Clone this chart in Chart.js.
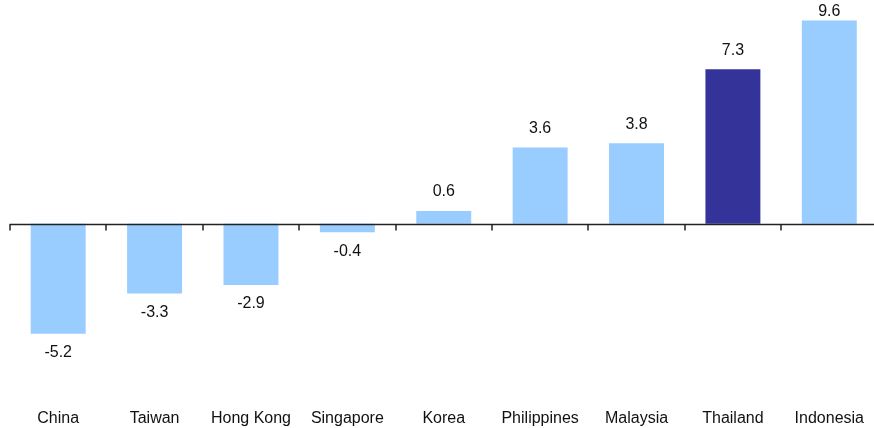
<!DOCTYPE html>
<html>
<head>
<meta charset="utf-8">
<script src="https://cdn.jsdelivr.net/npm/chart.js@4"></script>
<style>
    html, body { margin: 0; padding: 0; background: #fff; overflow: hidden; }
    #wrap { width: 880px; height: 428px; }
</style>
</head>
<body>
<div id="wrap"><canvas id="myChart" width="880" height="428"></canvas></div>
<script>
const countries = ['China', 'Taiwan', 'Hong Kong', 'Singapore', 'Korea', 'Philippines', 'Malaysia', 'Thailand', 'Indonesia'];
const values = [-5.2, -3.3, -2.9, -0.4, 0.6, 3.6, 3.8, 7.3, 9.6];
const highlight = 'Thailand';

const lightBlue = '#99CCFF';
const darkBlue = '#333399';
const fontFamily = '"Liberation Sans", Arial, sans-serif';

// zero line with small ticks between categories
const zeroLine = {
    id: 'zeroLine',
    afterDatasetsDraw(chart) {
        const ctx = chart.ctx;
        const x = chart.scales.x;
        const y0 = Math.round(chart.scales.y.getPixelForValue(0)) + 0.5;
        const half = (x.getPixelForValue(1) - x.getPixelForValue(0)) / 2;
        ctx.save();
        ctx.strokeStyle = '#222';
        ctx.lineWidth = 1.5;
        ctx.beginPath();
        ctx.moveTo(x.left - 0.5, y0);
        ctx.lineTo(chart.width, y0);
        ctx.stroke();
        for (let i = 0; i <= countries.length; i++) {
            const px = Math.round(x.getPixelForValue(0) - half + i * half * 2);
            ctx.beginPath();
            ctx.moveTo(px, y0);
            ctx.lineTo(px, y0 + 6);
            ctx.stroke();
        }
        ctx.restore();
    }
};

// value labels above / below bars
const valueLabels = {
    id: 'valueLabels',
    afterDatasetsDraw(chart) {
        const ctx = chart.ctx;
        const meta = chart.getDatasetMeta(0);
        ctx.save();
        ctx.font = '16px ' + fontFamily;
        ctx.fillStyle = '#111';
        ctx.textAlign = 'center';
        ctx.textBaseline = 'middle';
        meta.data.forEach(function (bar, i) {
            const v = values[i];
            let ly = v >= 0 ? bar.y - 19 : bar.y + 19;
            if (ly < 12) ly = 12;
            ctx.fillText(v.toFixed(1), bar.x, ly);
        });
        ctx.restore();
    }
};

const data = {
    labels: countries,
    datasets: [{
        data: values,
        backgroundColor: countries.map(c => c === highlight ? darkBlue : lightBlue),
        barPercentage: 0.57,
        categoryPercentage: 1
    }]
};

const config = {
    type: 'bar',
    data: data,
    options: {
        responsive: false,
        animation: false,
        devicePixelRatio: 1,
        layout: { padding: { left: 10, right: 0, top: 12, bottom: 2 } },
        plugins: { legend: { display: false }, tooltip: { enabled: false } },
        scales: {
            x: {
                grid: { display: false, drawTicks: false },
                border: { display: false },
                afterFit: function (scale) { scale.height = 33; },
                ticks: {
                    color: '#111',
                    padding: 16,
                    maxRotation: 0,
                    autoSkip: false,
                    font: { size: 16, family: fontFamily }
                }
            },
            y: {
                display: false,
                min: -8,
                max: 10
            }
        }
    },
    plugins: [zeroLine, valueLabels]
};

window.onload = function () {
    new Chart(document.getElementById('myChart'), config);
};
</script>
</body>
</html>
